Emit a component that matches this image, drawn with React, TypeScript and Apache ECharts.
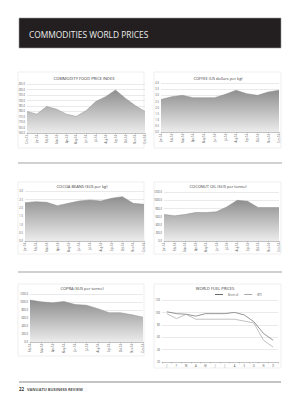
import React, { useEffect, useRef } from "react";
import * as echarts from "echarts";

const foodMonths = ["Dec-13","Jan-14","Feb-14","Mar-14","Apr-14","May-14","Jun-14","Jul-14","Aug-14","Sep-14","Oct-14","Nov-14","Dec-14"];
const foodValues = [179.8, 177.3, 184.3, 181.9, 177.3, 175.2, 180.4, 188.9, 193.4, 199.5, 191.9, 185.2, 179.8];

const coffeeMonths = ["Jan-14","Feb-14","Mar-14","Apr-14","May-14","Jun-14","Jul-14","Aug-14","Sep-14","Oct-14","Nov-14","Dec-14"];
const coffeeValues = [2.66, 2.88, 2.99, 2.8, 2.8, 2.8, 3.08, 3.41, 3.13, 2.99, 3.27, 3.41];

const cocoaMonths = ["Jan-14","Feb-14","Mar-14","Apr-14","May-14","Jun-14","Jul-14","Aug-14","Sep-14","Oct-14","Nov-14","Dec-14"];
const cocoaValues = [2.3, 2.36, 2.32, 2.12, 2.26, 2.4, 2.46, 2.4, 2.56, 2.66, 2.26, 2.2];

const coconutMonths = ["Jan-14","Feb-14","Mar-14","Apr-14","May-14","Jun-14","Jul-14","Aug-14","Sep-14","Oct-14","Nov-14","Dec-14"];
const coconutValues = [649, 616, 649, 697, 697, 714, 835, 997, 973, 819, 819, 819];

const copraMonths = ["Feb-14","Mar-14","Apr-14","May-14","Jun-14","Jul-14","Aug-14","Sep-14","Oct-14","Nov-14","Dec-14"];
const copraValues = [1047, 1004, 979, 1013, 936, 919, 834, 732, 732, 681, 621];

const fuelMonths = ["J","F","M","A","M","J","J","A","S","O","N","D"];
const brentValues = [101, 98, 97, 94, 98, 98, 98, 100, 96, 85, 66, 55];
const wtiValues = [98, 90, 97, 89, 89, 89, 89, 89, 86, 83, 55, 44];

const FONT = "Open Sans";

export default function App() {
  const ref = useRef<HTMLDivElement>(null);
  useEffect(() => {
    const chart = echarts.init(ref.current!, null, { renderer: "svg" });

    const grids = [
      { left: 27, top: 84, width: 118, height: 49 },
      { left: 161, top: 83, width: 118, height: 49 },
      { left: 25, top: 191, width: 119, height: 50 },
      { left: 164, top: 192, width: 115, height: 49 },
      { left: 30, top: 294, width: 113, height: 48 },
      { left: 162, top: 300, width: 116, height: 62 },
    ];
    const cats = [foodMonths, coffeeMonths, cocoaMonths, coconutMonths, copraMonths, fuelMonths];
    const yCfg = [
      { min: 160, max: 205, interval: 5, dec: 1 },
      { min: 0, max: 4, interval: 0.5, dec: 1 },
      { min: 0, max: 3, interval: 0.5, dec: 1 },
      { min: 0, max: 1200, interval: 200, dec: 1 },
      { min: 0, max: 1200, interval: 200, dec: 1 },
      { min: 20, max: 120, interval: 20, dec: 0 },
    ];
    const titles = [
      { text: "COMMODITY FOOD PRICE INDEX", x: 84, y: 76 },
      { text: "COFFEE (US dollars per kg)", x: 218, y: 76 },
      { text: "COCOA BEANS ($US per kg)", x: 82, y: 184 },
      { text: "COCONUT OIL ($US per tonne)", x: 218, y: 184 },
      { text: "COPRA ($US per tonne)", x: 82, y: 286 },
      { text: "WORLD FUEL PRICES", x: 215, y: 286 },
    ];

    const xAxis = cats.map((c, i) => ({
      type: "category",
      gridIndex: i,
      data: c,
      boundaryGap: i === 5,
      axisLine: { lineStyle: { color: "#9a9a9a", width: 0.5 } },
      axisTick: { show: true, lineStyle: { color: "#9a9a9a", width: 0.5 }, length: 1.5 },
      axisLabel: {
        fontSize: 2.6,
        color: "#555",
        fontFamily: FONT,
        rotate: i === 5 ? 0 : 90,
        margin: 2,
        interval: 0,
      },
    }));
    const yAxis = yCfg.map((y, i) => ({
      type: "value",
      gridIndex: i,
      min: y.min,
      max: y.max,
      interval: y.interval,
      axisLine: { show: false },
      axisTick: { show: false },
      splitLine: { lineStyle: { color: "#d4d4d4", width: 0.5 } },
      axisLabel: {
        fontSize: 2.6,
        color: "#555",
        fontFamily: FONT,
        margin: 2,
        formatter: (v: number) => v.toFixed(y.dec),
      },
    }));

    const areaData = [foodValues, coffeeValues, cocoaValues, coconutValues, copraValues];
    const areaSeries = areaData.map((d, i) => ({
      type: "line",
      xAxisIndex: i,
      yAxisIndex: i,
      data: d,
      symbol: "none",
      lineStyle: { color: "#8d8d8d", width: 0.5 },
      areaStyle: {
        opacity: 1,
        color: new echarts.graphic.LinearGradient(0, 0, 0, 1, [
          { offset: 0, color: "#8f8f8f" },
          { offset: 1, color: "#ececec" },
        ]),
      },
    }));

    const panel = (x: number, y: number, w: number, h: number) => ({
      type: "rect",
      shape: { x, y, width: w, height: h },
      style: { fill: "none", stroke: "#dcdcdc", lineWidth: 0.5 },
      silent: true,
    });

    chart.setOption({
      animation: false,
      backgroundColor: "#ffffff",
      grid: grids,
      xAxis,
      yAxis,
      title: titles.map((t) => ({
        text: t.text,
        left: t.x,
        top: t.y,
        textAlign: "center",
        padding: 0,
        textStyle: { fontSize: 4, fontWeight: "normal", color: "#3a3a3a", fontFamily: FONT },
      })),
      legend: {
        top: 293,
        left: 215,
        textAlign: "center",
        padding: 0,
        itemWidth: 8,
        itemHeight: 1,
        itemGap: 6,
        icon: "rect",
        textStyle: { fontSize: 2.6, color: "#555", fontFamily: FONT },
        data: ["Brent oil", "WTI"],
      },
      series: [
        ...areaSeries,
        {
          name: "Brent oil",
          type: "line",
          xAxisIndex: 5,
          yAxisIndex: 5,
          data: brentValues,
          symbol: "none",
          itemStyle: { color: "#6a6a6a" },
          lineStyle: { color: "#6a6a6a", width: 0.7 },
        },
        {
          name: "WTI",
          type: "line",
          xAxisIndex: 5,
          yAxisIndex: 5,
          data: wtiValues,
          symbol: "none",
          itemStyle: { color: "#a8a8a8" },
          lineStyle: { color: "#a8a8a8", width: 0.7 },
        },
      ],
      graphic: [
        {
          type: "rect",
          shape: { x: 19, y: 18, width: 262, height: 30 },
          style: { fill: "#231f20", stroke: "#9a9a9a", lineWidth: 0.6 },
        },
        {
          type: "text",
          x: 29,
          y: 34,
          style: {
            text: "COMMODITIES WORLD PRICES",
            fill: "#ececec",
            fontSize: 8.4,
            fontFamily: FONT,
            verticalAlign: "middle",
          },
        },
        panel(18, 72, 126, 76),
        panel(154, 72, 127, 76),
        panel(18, 182, 126, 72),
        panel(154, 182, 127, 72),
        panel(18, 284, 126, 72),
        panel(154, 284, 127, 84),
        {
          type: "line",
          shape: { x1: 18, y1: 163, x2: 282, y2: 163 },
          style: { stroke: "#8a8a8a", lineWidth: 0.8 },
        },
        {
          type: "line",
          shape: { x1: 18, y1: 272, x2: 282, y2: 272 },
          style: { stroke: "#8a8a8a", lineWidth: 0.8 },
        },
        {
          type: "line",
          shape: { x1: 19, y1: 382, x2: 281, y2: 382 },
          style: { stroke: "#6a6a6a", lineWidth: 0.8 },
        },
        {
          type: "text",
          x: 19,
          y: 389,
          style: { text: "22", fill: "#333", fontSize: 4.5, fontWeight: "bold", fontFamily: FONT, verticalAlign: "middle" },
        },
        {
          type: "text",
          x: 27,
          y: 389,
          style: { text: "VANUATU BUSINESS REVIEW", fill: "#555", fontSize: 4, fontWeight: "bold", fontFamily: FONT, verticalAlign: "middle" },
        },
      ],
    });
    return () => chart.dispose();
  }, []);

  return (
    <div
      ref={ref}
      style={{ position: "fixed", left: 0, top: 0, width: 300, height: 405, background: "#fff" }}
    />
  );
}
